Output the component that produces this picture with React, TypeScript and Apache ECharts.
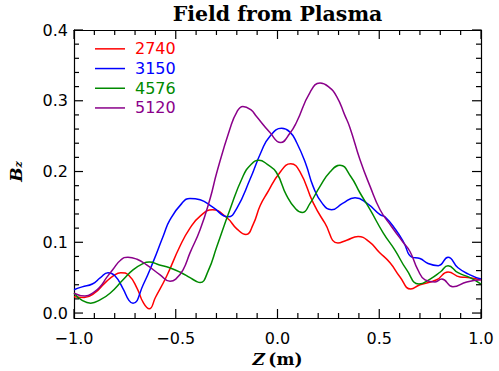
import React, { useEffect, useRef } from "react";
import * as echarts from "echarts";

const seriesNames = ["2740", "3150", "4576", "5120"];
const seriesColors = ["#ff0000", "#0000ff", "#008a00", "#8a008a"];

const red2740: [number, number][] = [
  [-1.0, 0.023], [-0.95, 0.022], [-0.9, 0.028], [-0.85, 0.042], [-0.8, 0.054], [-0.77, 0.057],
  [-0.73, 0.053], [-0.69, 0.035], [-0.66, 0.015], [-0.63, 0.006], [-0.6, 0.022], [-0.545, 0.052],
  [-0.48, 0.094], [-0.43, 0.12], [-0.38, 0.137], [-0.32, 0.146], [-0.25, 0.135], [-0.2, 0.119],
  [-0.155, 0.111], [-0.12, 0.125], [-0.085, 0.152], [-0.05, 0.17], [0.01, 0.198], [0.065, 0.211],
  [0.11, 0.2], [0.175, 0.156], [0.233, 0.127], [0.297, 0.099], [0.34, 0.103], [0.396, 0.108],
  [0.45, 0.101], [0.5, 0.086], [0.553, 0.071], [0.602, 0.051], [0.655, 0.034], [0.7, 0.04],
  [0.782, 0.047], [0.838, 0.058], [0.897, 0.051], [0.946, 0.05], [1.0, 0.047],
];

const blue3150: [number, number][] = [
  [-1.0, 0.033], [-0.96, 0.037], [-0.91, 0.041], [-0.87, 0.05], [-0.833, 0.057], [-0.8, 0.053],
  [-0.76, 0.035], [-0.73, 0.018], [-0.71, 0.014], [-0.66, 0.04], [-0.61, 0.073], [-0.56, 0.11],
  [-0.528, 0.132], [-0.47, 0.155], [-0.43, 0.162], [-0.38, 0.16], [-0.32, 0.15], [-0.243, 0.136],
  [-0.2, 0.148], [-0.135, 0.189], [-0.08, 0.228], [-0.037, 0.25], [0.02, 0.261], [0.06, 0.256],
  [0.094, 0.241], [0.14, 0.21], [0.175, 0.179], [0.22, 0.155], [0.266, 0.146], [0.32, 0.155],
  [0.381, 0.163], [0.44, 0.155], [0.504, 0.139], [0.528, 0.136], [0.58, 0.118], [0.62, 0.1],
  [0.66, 0.079], [0.7, 0.077], [0.74, 0.07], [0.79, 0.067], [0.838, 0.079], [0.887, 0.064],
  [0.946, 0.054], [1.0, 0.048],
];

const green4576: [number, number][] = [
  [-1.0, 0.028], [-0.96, 0.018], [-0.918, 0.014], [-0.87, 0.019], [-0.823, 0.028], [-0.759, 0.047],
  [-0.71, 0.061], [-0.66, 0.07], [-0.63, 0.072], [-0.58, 0.068], [-0.53, 0.064], [-0.48, 0.058],
  [-0.43, 0.05], [-0.4, 0.045], [-0.38, 0.043], [-0.34, 0.06], [-0.298, 0.094], [-0.234, 0.146],
  [-0.17, 0.193], [-0.13, 0.21], [-0.091, 0.216], [-0.05, 0.21], [-0.006, 0.199], [0.045, 0.166],
  [0.09, 0.147], [0.122, 0.142], [0.16, 0.155], [0.209, 0.179], [0.26, 0.2], [0.307, 0.209],
  [0.36, 0.193], [0.405, 0.17], [0.455, 0.146], [0.52, 0.113], [0.577, 0.089], [0.635, 0.061],
  [0.695, 0.041], [0.75, 0.048], [0.8, 0.058], [0.838, 0.067], [0.887, 0.057], [0.946, 0.05],
  [1.0, 0.041],
];

const purple5120: [number, number][] = [
  [-1.0, 0.028], [-0.946, 0.024], [-0.9, 0.03], [-0.872, 0.037], [-0.84, 0.05], [-0.808, 0.062],
  [-0.77, 0.075], [-0.735, 0.079], [-0.69, 0.076], [-0.643, 0.068], [-0.577, 0.054], [-0.528, 0.045],
  [-0.5, 0.048], [-0.464, 0.061], [-0.43, 0.085], [-0.38, 0.118], [-0.33, 0.163], [-0.298, 0.199],
  [-0.234, 0.26], [-0.2, 0.284], [-0.17, 0.292], [-0.13, 0.287], [-0.104, 0.278], [-0.037, 0.255],
  [0.015, 0.241], [0.061, 0.254], [0.094, 0.27], [0.16, 0.312], [0.209, 0.325], [0.25, 0.32],
  [0.291, 0.306], [0.33, 0.28], [0.356, 0.262], [0.405, 0.217], [0.455, 0.179], [0.504, 0.146],
  [0.561, 0.122], [0.617, 0.1], [0.651, 0.087], [0.69, 0.061], [0.725, 0.047], [0.774, 0.044],
  [0.807, 0.048], [0.862, 0.037], [0.93, 0.044], [1.0, 0.047],
];

const allSeries = [red2740, blue3150, green4576, purple5120];

const xTickLabels = ["\u22121.0", "\u22120.5", "0.0", "0.5", "1.0"];
const yTickLabels = ["0.0", "0.1", "0.2", "0.3", "0.4"];

const xMajorTicks = [-1, -0.5, 0, 0.5, 1];
const xMinorTicks = [-0.9, -0.8, -0.7, -0.6, -0.4, -0.3, -0.2, -0.1, 0.1, 0.2, 0.3, 0.4, 0.6, 0.7, 0.8, 0.9];
const yMajorTicks = [0, 0.1, 0.2, 0.3, 0.4];
const yMinorTicks = [
  0.02, 0.04, 0.06, 0.08, 0.12, 0.14, 0.16, 0.18, 0.22, 0.24, 0.26, 0.28, 0.32, 0.34, 0.36, 0.38,
];

const tickFont = "DejaVu Sans";
const MAJOR_LEN = 9;
const MINOR_LEN = 5;

export default function App() {
  const ref = useRef<HTMLDivElement>(null);
  useEffect(() => {
    if (!ref.current) return;
    const chart = echarts.init(ref.current, undefined, { renderer: "svg" });
    const axisLine = { show: true, onZero: false, lineStyle: { color: "#000", width: 1.2 } };

    const xTickData = [
      ...xMajorTicks.map((v) => [v, 0, 1]),
      ...xMinorTicks.map((v) => [v, 0, 0]),
    ];
    const yTickData = [
      ...yMajorTicks.map((v) => [0, v, 1]),
      ...yMinorTicks.map((v) => [0, v, 0]),
    ];

    chart.setOption({
      animation: false,
      backgroundColor: "#fff",
      grid: [
        { left: 74, right: 18, top: 30, bottom: 53, containLabel: false, outerBoundsMode: "none" },
        { left: 74, right: 18, top: 30, bottom: 58, containLabel: false, outerBoundsMode: "none" },
      ],
      xAxis: [
        {
          type: "value",
          gridIndex: 0,
          position: "bottom",
          min: -1,
          max: 1,
          interval: 0.5,
          splitLine: { show: false },
          axisLine: { ...axisLine },
          axisTick: { show: false },
          axisLabel: {
            show: true,
            margin: 12,
            fontFamily: tickFont,
            fontSize: 16,
            color: "#000",
            formatter: (v: number) => xTickLabels[Math.round((v + 1) / 0.5)] ?? "",
          },
          name: "{i|Z} {n|(m)}",
          nameLocation: "middle",
          nameGap: 30,
          nameTextStyle: {
            rich: {
              i: { fontFamily: "DejaVu Serif", fontWeight: "bold", fontStyle: "italic", fontSize: 17, color: "#000" },
              n: { fontFamily: "DejaVu Serif", fontWeight: "bold", fontSize: 17, color: "#000" },
            },
          },
        },
        {
          type: "value",
          gridIndex: 0,
          position: "top",
          min: -1,
          max: 1,
          interval: 0.5,
          splitLine: { show: false },
          axisLine: { ...axisLine },
          axisTick: { show: false },
          axisLabel: { show: false },
        },
        { type: "value", gridIndex: 1, min: -1, max: 1, show: false },
      ],
      yAxis: [
        {
          type: "value",
          gridIndex: 0,
          min: -0.007,
          max: 0.4,
          position: "left",
          axisLine: { ...axisLine },
          axisTick: { show: false },
          axisLabel: { show: false },
          splitLine: { show: false },
        },
        {
          type: "value",
          gridIndex: 0,
          min: -0.007,
          max: 0.4,
          position: "right",
          axisLine: { ...axisLine },
          axisTick: { show: false },
          axisLabel: { show: false },
          splitLine: { show: false },
        },
        {
          type: "value",
          gridIndex: 1,
          position: "left",
          min: 0,
          max: 0.4,
          interval: 0.1,
          splitLine: { show: false },
          axisLine: { show: false, onZero: false },
          axisTick: { show: false },
          axisLabel: {
            show: true,
            margin: 6,
            fontFamily: tickFont,
            fontSize: 16,
            color: "#000",
            formatter: (v: number) => yTickLabels[Math.round(v / 0.1)] ?? "",
          },
          name: "{b|B}{s|z}",
          nameLocation: "middle",
          nameRotate: 90,
          nameGap: 50,
          nameTextStyle: {
            rich: {
              b: { fontFamily: "DejaVu Serif", fontWeight: "bold", fontStyle: "italic", fontSize: 17, color: "#000", verticalAlign: "bottom" },
              s: { fontFamily: "DejaVu Serif", fontWeight: "bold", fontStyle: "italic", fontSize: 11, color: "#000", verticalAlign: "bottom", padding: [8, 0, 0, 0] },
            },
          },
        },
      ],
      legend: {
        orient: "vertical",
        left: 95,
        top: 39,
        padding: 0,
        itemWidth: 30,
        itemHeight: 1.5,
        itemGap: 0,
        icon: "rect",
        textStyle: { fontFamily: tickFont, fontSize: 16, lineHeight: 19.7, padding: [0, 0, 0, 5] },
        data: seriesNames.map((n, i) => ({ name: n, textStyle: { color: seriesColors[i] } })),
      },
      graphic: [
        {
          type: "text",
          x: 277.5,
          y: 14,
          style: {
            text: "Field from Plasma",
            fontFamily: "DejaVu Serif",
            fontWeight: "bold",
            fontSize: 20.5,
            fill: "#000",
            textAlign: "center",
            textVerticalAlign: "middle",
          },
        },
      ],
      series: [
        ...allSeries.map((d, i) => ({
          name: seriesNames[i],
          type: "line",
          xAxisIndex: 0,
          yAxisIndex: 0,
          data: d,
          smooth: 0.5,
          showSymbol: false,
          symbol: "none",
          lineStyle: { color: seriesColors[i], width: 1.5 },
          itemStyle: { color: seriesColors[i] },
        })),
        {
          name: "xTicks",
          type: "custom",
          xAxisIndex: 0,
          yAxisIndex: 0,
          silent: true,
          clip: false,
          z: 5,
          data: xTickData,
          renderItem: (params: any, api: any) => {
            const v = api.value(0);
            const len = api.value(2) === 1 ? MAJOR_LEN : MINOR_LEN;
            const cs = params.coordSys;
            const px = api.coord([v, 0])[0];
            const top = cs.y;
            const bottom = cs.y + cs.height;
            return {
              type: "group",
              children: [
                { type: "line", shape: { x1: px, y1: bottom, x2: px, y2: bottom - len }, style: { stroke: "#000", lineWidth: 1.2 } },
                { type: "line", shape: { x1: px, y1: top, x2: px, y2: top + len }, style: { stroke: "#000", lineWidth: 1.2 } },
              ],
            };
          },
        },
        {
          name: "yTicks",
          type: "custom",
          xAxisIndex: 0,
          yAxisIndex: 0,
          silent: true,
          clip: false,
          z: 5,
          data: yTickData,
          renderItem: (params: any, api: any) => {
            const v = api.value(1);
            const len = api.value(2) === 1 ? MAJOR_LEN : MINOR_LEN;
            const cs = params.coordSys;
            const py = api.coord([0, v])[1];
            const left = cs.x;
            const right = cs.x + cs.width;
            return {
              type: "group",
              children: [
                { type: "line", shape: { x1: left, y1: py, x2: left + len, y2: py }, style: { stroke: "#000", lineWidth: 1.2 } },
                { type: "line", shape: { x1: right, y1: py, x2: right - len, y2: py }, style: { stroke: "#000", lineWidth: 1.2 } },
              ],
            };
          },
        },
      ],
    });
    return () => chart.dispose();
  }, []);
  return <div ref={ref} style={{ width: 499, height: 371, position: "absolute", left: 0, top: 0 }} />;
}
